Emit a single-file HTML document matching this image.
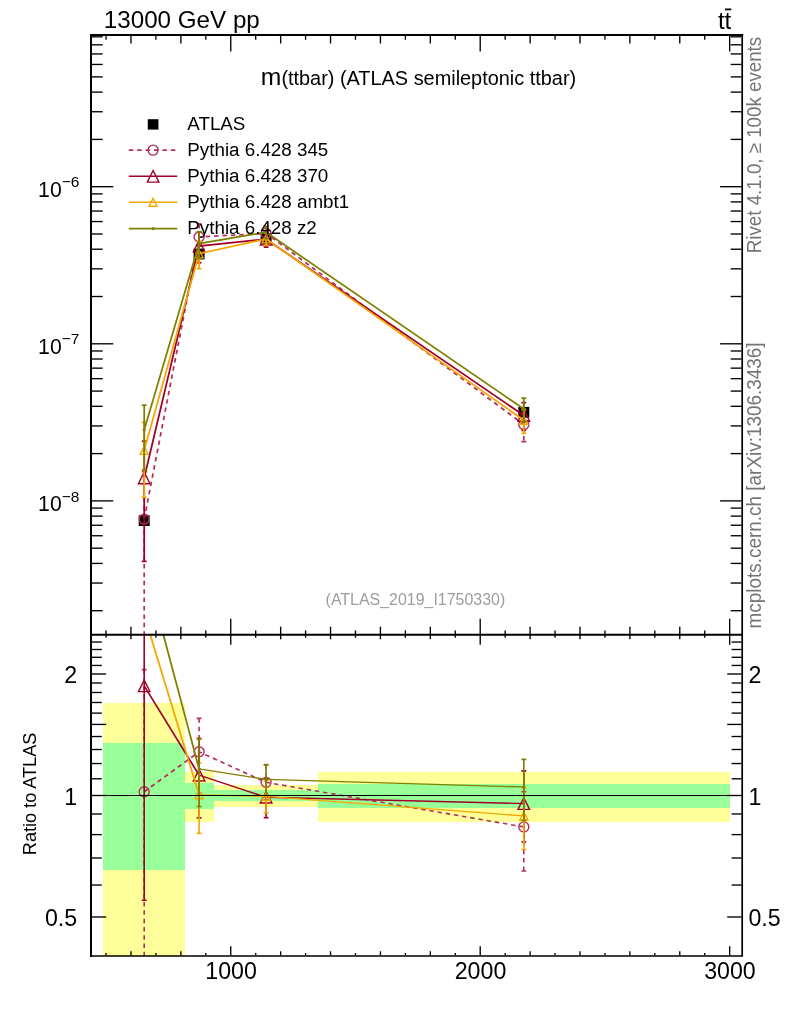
<!DOCTYPE html>
<html lang="en">
<head>
<meta charset="utf-8">
<title>m(ttbar) (ATLAS semileptonic ttbar) - 13000 GeV pp</title>
<style>
html,body{margin:0;padding:0;background:#fff;}
body{width:786px;height:1024px;overflow:hidden;}
svg{display:block;font-family:"Liberation Sans", Arial, Helvetica, sans-serif;}
</style>
</head>
<body>
<svg width="786" height="1024" viewBox="0 0 786 1024">
<rect width="786" height="1024" fill="#fff"/>
<g shape-rendering="crispEdges">
<rect x="103.3" y="703.2" width="81.7" height="252.8" fill="#ffff99"/>
<rect x="103.3" y="743.3" width="81.7" height="126.2" fill="#99ff99"/>
<rect x="185.0" y="772.3" width="29.0" height="49.7" fill="#ffff99"/>
<rect x="185.0" y="782.7" width="29.0" height="26.0" fill="#99ff99"/>
<rect x="214.0" y="785.3" width="104.0" height="21.4" fill="#ffff99"/>
<rect x="214.0" y="790.1" width="104.0" height="10.9" fill="#99ff99"/>
<rect x="318.0" y="772.2" width="411.8" height="49.5" fill="#ffff99"/>
<rect x="318.0" y="783.7" width="411.8" height="24.0" fill="#99ff99"/>
</g>
<defs><clipPath id="clipm"><rect x="91.0" y="35.0" width="651.2" height="599.7"/></clipPath><clipPath id="clipr"><rect x="91.0" y="634.7" width="651.2" height="321.29999999999995"/></clipPath></defs>
<rect x="138.70" y="515.20" width="11" height="10.8" fill="#000"/>
<rect x="193.60" y="248.60" width="11" height="10.8" fill="#000"/>
<rect x="260.60" y="233.10" width="11" height="10.8" fill="#000"/>
<rect x="518.30" y="406.90" width="11" height="10.8" fill="#000"/>
<g clip-path="url(#clipm)">
<polyline points="144.20,519.12 199.10,237.00 266.10,233.38 523.80,424.52" fill="none" stroke="#b5305c" stroke-width="1.75" stroke-dasharray="4.5 3.9"/>
<line x1="144.20" y1="471.62" x2="144.20" y2="634.70" stroke="#b5305c" stroke-width="1.75" stroke-dasharray="4.5 3.9"/>
<line x1="141.80" y1="471.62" x2="146.60" y2="471.62" stroke="#b5305c" stroke-width="1.75" />
<line x1="199.10" y1="223.97" x2="199.10" y2="253.12" stroke="#b5305c" stroke-width="1.75" stroke-dasharray="4.5 3.9"/>
<line x1="196.70" y1="223.97" x2="201.50" y2="223.97" stroke="#b5305c" stroke-width="1.75" />
<line x1="196.70" y1="253.12" x2="201.50" y2="253.12" stroke="#b5305c" stroke-width="1.75" />
<line x1="266.10" y1="226.52" x2="266.10" y2="240.23" stroke="#b5305c" stroke-width="1.75" stroke-dasharray="4.5 3.9"/>
<line x1="263.70" y1="226.52" x2="268.50" y2="226.52" stroke="#b5305c" stroke-width="1.75" />
<line x1="263.70" y1="240.23" x2="268.50" y2="240.23" stroke="#b5305c" stroke-width="1.75" />
<line x1="523.80" y1="410.82" x2="523.80" y2="441.69" stroke="#b5305c" stroke-width="1.75" stroke-dasharray="4.5 3.9"/>
<line x1="521.40" y1="410.82" x2="526.20" y2="410.82" stroke="#b5305c" stroke-width="1.75" />
<line x1="521.40" y1="441.69" x2="526.20" y2="441.69" stroke="#b5305c" stroke-width="1.75" />
<circle cx="144.20" cy="519.12" r="5.0" fill="none" stroke="#b5305c" stroke-width="1.4"/>
<circle cx="199.10" cy="237.00" r="5.0" fill="none" stroke="#b5305c" stroke-width="1.4"/>
<circle cx="266.10" cy="233.38" r="5.0" fill="none" stroke="#b5305c" stroke-width="1.4"/>
<circle cx="523.80" cy="424.52" r="5.0" fill="none" stroke="#b5305c" stroke-width="1.4"/>
</g>
<g clip-path="url(#clipm)">
<polyline points="144.20,477.93 199.10,246.09 266.10,239.19 523.80,415.44" fill="none" stroke="#a00028" stroke-width="1.75" />
<line x1="144.20" y1="441.24" x2="144.20" y2="561.39" stroke="#a00028" stroke-width="1.75" />
<line x1="141.80" y1="441.24" x2="146.60" y2="441.24" stroke="#a00028" stroke-width="1.75" />
<line x1="141.80" y1="561.39" x2="146.60" y2="561.39" stroke="#a00028" stroke-width="1.75" />
<line x1="199.10" y1="231.88" x2="199.10" y2="262.72" stroke="#a00028" stroke-width="1.75" />
<line x1="196.70" y1="231.88" x2="201.50" y2="231.88" stroke="#a00028" stroke-width="1.75" />
<line x1="196.70" y1="262.72" x2="201.50" y2="262.72" stroke="#a00028" stroke-width="1.75" />
<line x1="266.10" y1="232.00" x2="266.10" y2="247.14" stroke="#a00028" stroke-width="1.75" />
<line x1="263.70" y1="232.00" x2="268.50" y2="232.00" stroke="#a00028" stroke-width="1.75" />
<line x1="263.70" y1="247.14" x2="268.50" y2="247.14" stroke="#a00028" stroke-width="1.75" />
<line x1="523.80" y1="402.71" x2="523.80" y2="430.40" stroke="#a00028" stroke-width="1.75" />
<line x1="521.40" y1="402.71" x2="526.20" y2="402.71" stroke="#a00028" stroke-width="1.75" />
<line x1="521.40" y1="430.40" x2="526.20" y2="430.40" stroke="#a00028" stroke-width="1.75" />
<path d="M138.40 483.73L150.00 483.73L144.20 472.13Z" fill="none" stroke="#a00028" stroke-width="1.4" stroke-linejoin="miter"/>
<path d="M193.30 251.89L204.90 251.89L199.10 240.29Z" fill="none" stroke="#a00028" stroke-width="1.4" stroke-linejoin="miter"/>
<path d="M260.30 244.99L271.90 244.99L266.10 233.39Z" fill="none" stroke="#a00028" stroke-width="1.4" stroke-linejoin="miter"/>
<path d="M518.00 421.24L529.60 421.24L523.80 409.64Z" fill="none" stroke="#a00028" stroke-width="1.4" stroke-linejoin="miter"/>
</g>
<g clip-path="url(#clipm)">
<polyline points="144.20,450.35 199.10,253.73 266.10,238.84 523.80,420.25" fill="none" stroke="#f4a600" stroke-width="1.75" />
<line x1="144.20" y1="422.36" x2="144.20" y2="497.16" stroke="#f4a600" stroke-width="1.75" />
<line x1="141.80" y1="422.36" x2="146.60" y2="422.36" stroke="#f4a600" stroke-width="1.75" />
<line x1="141.80" y1="497.16" x2="146.60" y2="497.16" stroke="#f4a600" stroke-width="1.75" />
<line x1="199.10" y1="241.39" x2="199.10" y2="268.71" stroke="#f4a600" stroke-width="1.75" />
<line x1="196.70" y1="241.39" x2="201.50" y2="241.39" stroke="#f4a600" stroke-width="1.75" />
<line x1="196.70" y1="268.71" x2="201.50" y2="268.71" stroke="#f4a600" stroke-width="1.75" />
<line x1="266.10" y1="232.93" x2="266.10" y2="245.31" stroke="#f4a600" stroke-width="1.75" />
<line x1="263.70" y1="232.93" x2="268.50" y2="232.93" stroke="#f4a600" stroke-width="1.75" />
<line x1="263.70" y1="245.31" x2="268.50" y2="245.31" stroke="#f4a600" stroke-width="1.75" />
<line x1="523.80" y1="409.30" x2="523.80" y2="433.31" stroke="#f4a600" stroke-width="1.75" />
<line x1="521.40" y1="409.30" x2="526.20" y2="409.30" stroke="#f4a600" stroke-width="1.75" />
<line x1="521.40" y1="433.31" x2="526.20" y2="433.31" stroke="#f4a600" stroke-width="1.75" />
<path d="M140.20 454.35L148.20 454.35L144.20 446.35Z" fill="none" stroke="#f4a600" stroke-width="1.4" stroke-linejoin="miter"/>
<path d="M195.10 257.73L203.10 257.73L199.10 249.73Z" fill="none" stroke="#f4a600" stroke-width="1.4" stroke-linejoin="miter"/>
<path d="M262.10 242.84L270.10 242.84L266.10 234.84Z" fill="none" stroke="#f4a600" stroke-width="1.4" stroke-linejoin="miter"/>
<path d="M519.80 424.25L527.80 424.25L523.80 416.25Z" fill="none" stroke="#f4a600" stroke-width="1.4" stroke-linejoin="miter"/>
</g>
<g clip-path="url(#clipm)">
<polyline points="144.20,430.06 199.10,243.64 266.10,232.25 523.80,408.97" fill="none" stroke="#808000" stroke-width="1.75" />
<line x1="144.20" y1="405.16" x2="144.20" y2="469.98" stroke="#808000" stroke-width="1.75" />
<line x1="141.80" y1="405.16" x2="146.60" y2="405.16" stroke="#808000" stroke-width="1.75" />
<line x1="141.80" y1="469.98" x2="146.60" y2="469.98" stroke="#808000" stroke-width="1.75" />
<line x1="199.10" y1="231.88" x2="199.10" y2="258.29" stroke="#808000" stroke-width="1.75" />
<line x1="196.70" y1="231.88" x2="201.50" y2="231.88" stroke="#808000" stroke-width="1.75" />
<line x1="196.70" y1="258.29" x2="201.50" y2="258.29" stroke="#808000" stroke-width="1.75" />
<line x1="266.10" y1="226.52" x2="266.10" y2="238.50" stroke="#808000" stroke-width="1.75" />
<line x1="263.70" y1="226.52" x2="268.50" y2="226.52" stroke="#808000" stroke-width="1.75" />
<line x1="263.70" y1="238.50" x2="268.50" y2="238.50" stroke="#808000" stroke-width="1.75" />
<line x1="523.80" y1="398.23" x2="523.80" y2="422.04" stroke="#808000" stroke-width="1.75" />
<line x1="521.40" y1="398.23" x2="526.20" y2="398.23" stroke="#808000" stroke-width="1.75" />
<line x1="521.40" y1="422.04" x2="526.20" y2="422.04" stroke="#808000" stroke-width="1.75" />
<circle cx="144.20" cy="430.06" r="1.6" fill="#808000"/>
<circle cx="199.10" cy="243.64" r="1.6" fill="#808000"/>
<circle cx="266.10" cy="232.25" r="1.6" fill="#808000"/>
<circle cx="523.80" cy="408.97" r="1.6" fill="#808000"/>
</g>
<g clip-path="url(#clipr)">
<line x1="144.20" y1="791.69" x2="199.10" y2="751.82" stroke="#b5305c" stroke-width="1.79" stroke-linecap="butt" stroke-dasharray="4.5 3.8" stroke-dashoffset="0.00"/>
<line x1="199.10" y1="751.82" x2="266.10" y2="782.33" stroke="#b5305c" stroke-width="1.71" stroke-linecap="butt" stroke-dasharray="4.5 3.8" stroke-dashoffset="1.45"/>
<line x1="266.10" y1="782.33" x2="523.80" y2="826.90" stroke="#b5305c" stroke-width="1.59" stroke-linecap="butt" stroke-dasharray="4.5 3.8" stroke-dashoffset="0.37"/>
<line x1="144.20" y1="669.67" x2="144.20" y2="956.00" stroke="#b5305c" stroke-width="1.6" stroke-dasharray="4.5 3.8"/>
<line x1="141.80" y1="669.67" x2="146.60" y2="669.67" stroke="#b5305c" stroke-width="1.6" />
<line x1="199.10" y1="718.34" x2="199.10" y2="793.24" stroke="#b5305c" stroke-width="1.6" stroke-dasharray="4.5 3.8"/>
<line x1="196.70" y1="718.34" x2="201.50" y2="718.34" stroke="#b5305c" stroke-width="1.6" />
<line x1="196.70" y1="793.24" x2="201.50" y2="793.24" stroke="#b5305c" stroke-width="1.6" />
<line x1="266.10" y1="764.71" x2="266.10" y2="799.94" stroke="#b5305c" stroke-width="1.6" stroke-dasharray="4.5 3.8"/>
<line x1="263.70" y1="764.71" x2="268.50" y2="764.71" stroke="#b5305c" stroke-width="1.6" />
<line x1="263.70" y1="799.94" x2="268.50" y2="799.94" stroke="#b5305c" stroke-width="1.6" />
<line x1="523.80" y1="791.69" x2="523.80" y2="871.01" stroke="#b5305c" stroke-width="1.6" stroke-dasharray="4.5 3.8"/>
<line x1="521.40" y1="791.69" x2="526.20" y2="791.69" stroke="#b5305c" stroke-width="1.6" />
<line x1="521.40" y1="871.01" x2="526.20" y2="871.01" stroke="#b5305c" stroke-width="1.6" />
<circle cx="144.20" cy="791.69" r="5.0" fill="none" stroke="#b5305c" stroke-width="1.4"/>
<circle cx="199.10" cy="751.82" r="5.0" fill="none" stroke="#b5305c" stroke-width="1.4"/>
<circle cx="266.10" cy="782.33" r="5.0" fill="none" stroke="#b5305c" stroke-width="1.4"/>
<circle cx="523.80" cy="826.90" r="5.0" fill="none" stroke="#b5305c" stroke-width="1.4"/>
</g>
<g clip-path="url(#clipr)">
<line x1="144.20" y1="685.87" x2="199.10" y2="775.17" stroke="#a00028" stroke-width="1.73" stroke-linecap="butt" />
<line x1="199.10" y1="775.17" x2="266.10" y2="797.26" stroke="#a00028" stroke-width="1.46" stroke-linecap="butt" />
<line x1="266.10" y1="797.26" x2="523.80" y2="803.57" stroke="#a00028" stroke-width="1.31" stroke-linecap="butt" />
<line x1="144.20" y1="634.70" x2="144.20" y2="900.29" stroke="#a00028" stroke-width="1.6" />
<line x1="141.80" y1="900.29" x2="146.60" y2="900.29" stroke="#a00028" stroke-width="1.6" />
<line x1="199.10" y1="738.66" x2="199.10" y2="817.91" stroke="#a00028" stroke-width="1.6" />
<line x1="196.70" y1="738.66" x2="201.50" y2="738.66" stroke="#a00028" stroke-width="1.6" />
<line x1="196.70" y1="817.91" x2="201.50" y2="817.91" stroke="#a00028" stroke-width="1.6" />
<line x1="266.10" y1="778.79" x2="266.10" y2="817.71" stroke="#a00028" stroke-width="1.6" />
<line x1="263.70" y1="778.79" x2="268.50" y2="778.79" stroke="#a00028" stroke-width="1.6" />
<line x1="263.70" y1="817.71" x2="268.50" y2="817.71" stroke="#a00028" stroke-width="1.6" />
<line x1="523.80" y1="770.85" x2="523.80" y2="842.00" stroke="#a00028" stroke-width="1.6" />
<line x1="521.40" y1="770.85" x2="526.20" y2="770.85" stroke="#a00028" stroke-width="1.6" />
<line x1="521.40" y1="842.00" x2="526.20" y2="842.00" stroke="#a00028" stroke-width="1.6" />
<path d="M138.40 691.67L150.00 691.67L144.20 680.07Z" fill="none" stroke="#a00028" stroke-width="1.4" stroke-linejoin="miter"/>
<path d="M193.30 780.97L204.90 780.97L199.10 769.37Z" fill="none" stroke="#a00028" stroke-width="1.4" stroke-linejoin="miter"/>
<path d="M260.30 803.06L271.90 803.06L266.10 791.46Z" fill="none" stroke="#a00028" stroke-width="1.4" stroke-linejoin="miter"/>
<path d="M518.00 809.37L529.60 809.37L523.80 797.77Z" fill="none" stroke="#a00028" stroke-width="1.4" stroke-linejoin="miter"/>
</g>
<g clip-path="url(#clipr)">
<line x1="144.20" y1="615.02" x2="199.10" y2="794.80" stroke="#f4a600" stroke-width="1.78" stroke-linecap="butt" />
<line x1="199.10" y1="794.80" x2="266.10" y2="796.38" stroke="#f4a600" stroke-width="1.31" stroke-linecap="butt" />
<line x1="266.10" y1="796.38" x2="523.80" y2="815.93" stroke="#f4a600" stroke-width="1.34" stroke-linecap="butt" />
<line x1="199.10" y1="763.10" x2="199.10" y2="833.30" stroke="#f4a600" stroke-width="1.6" />
<line x1="196.70" y1="763.10" x2="201.50" y2="763.10" stroke="#f4a600" stroke-width="1.6" />
<line x1="196.70" y1="833.30" x2="201.50" y2="833.30" stroke="#f4a600" stroke-width="1.6" />
<line x1="266.10" y1="781.20" x2="266.10" y2="813.00" stroke="#f4a600" stroke-width="1.6" />
<line x1="263.70" y1="781.20" x2="268.50" y2="781.20" stroke="#f4a600" stroke-width="1.6" />
<line x1="263.70" y1="813.00" x2="268.50" y2="813.00" stroke="#f4a600" stroke-width="1.6" />
<line x1="523.80" y1="787.78" x2="523.80" y2="849.47" stroke="#f4a600" stroke-width="1.6" />
<line x1="521.40" y1="787.78" x2="526.20" y2="787.78" stroke="#f4a600" stroke-width="1.6" />
<line x1="521.40" y1="849.47" x2="526.20" y2="849.47" stroke="#f4a600" stroke-width="1.6" />
<path d="M195.10 798.80L203.10 798.80L199.10 790.80Z" fill="none" stroke="#f4a600" stroke-width="1.4" stroke-linejoin="miter"/>
<path d="M262.10 800.38L270.10 800.38L266.10 792.38Z" fill="none" stroke="#f4a600" stroke-width="1.4" stroke-linejoin="miter"/>
<path d="M519.80 819.93L527.80 819.93L523.80 811.93Z" fill="none" stroke="#f4a600" stroke-width="1.4" stroke-linejoin="miter"/>
</g>
<g clip-path="url(#clipr)">
<line x1="144.20" y1="562.88" x2="199.10" y2="768.88" stroke="#808000" stroke-width="1.78" stroke-linecap="butt" />
<line x1="199.10" y1="768.88" x2="266.10" y2="779.43" stroke="#808000" stroke-width="1.38" stroke-linecap="butt" />
<line x1="266.10" y1="779.43" x2="523.80" y2="786.95" stroke="#808000" stroke-width="1.31" stroke-linecap="butt" />
<line x1="199.10" y1="738.66" x2="199.10" y2="806.53" stroke="#808000" stroke-width="1.6" />
<line x1="196.70" y1="738.66" x2="201.50" y2="738.66" stroke="#808000" stroke-width="1.6" />
<line x1="196.70" y1="806.53" x2="201.50" y2="806.53" stroke="#808000" stroke-width="1.6" />
<line x1="266.10" y1="764.71" x2="266.10" y2="795.50" stroke="#808000" stroke-width="1.6" />
<line x1="263.70" y1="764.71" x2="268.50" y2="764.71" stroke="#808000" stroke-width="1.6" />
<line x1="263.70" y1="795.50" x2="268.50" y2="795.50" stroke="#808000" stroke-width="1.6" />
<line x1="523.80" y1="759.36" x2="523.80" y2="820.52" stroke="#808000" stroke-width="1.6" />
<line x1="521.40" y1="759.36" x2="526.20" y2="759.36" stroke="#808000" stroke-width="1.6" />
<line x1="521.40" y1="820.52" x2="526.20" y2="820.52" stroke="#808000" stroke-width="1.6" />
<circle cx="199.10" cy="768.88" r="1.6" fill="#808000"/>
<circle cx="266.10" cy="779.43" r="1.6" fill="#808000"/>
<circle cx="523.80" cy="786.95" r="1.6" fill="#808000"/>
</g>
<line x1="91.00" y1="795.50" x2="742.20" y2="795.50" stroke="#000" stroke-width="1.2" />
<path d="M91.0 956.0V35.0H742.2" fill="none" stroke="#000" stroke-width="2" stroke-linejoin="miter" stroke-linecap="square"/>
<path d="M742.2 35.0V956.0H91.0" fill="none" stroke="#000" stroke-width="1.7" stroke-linecap="square"/>
<line x1="91.00" y1="634.70" x2="742.20" y2="634.70" stroke="#000" stroke-width="2.0" />
<line x1="106.02" y1="36.00" x2="106.02" y2="39.80" stroke="#000" stroke-width="1.35" />
<line x1="106.02" y1="630.40" x2="106.02" y2="637.80" stroke="#000" stroke-width="1.35" />
<line x1="106.02" y1="955.20" x2="106.02" y2="953.10" stroke="#000" stroke-width="1.35" />
<line x1="130.96" y1="36.00" x2="130.96" y2="43.50" stroke="#000" stroke-width="1.35" />
<line x1="130.96" y1="626.70" x2="130.96" y2="639.30" stroke="#000" stroke-width="1.35" />
<line x1="130.96" y1="955.20" x2="130.96" y2="951.30" stroke="#000" stroke-width="1.35" />
<line x1="155.91" y1="36.00" x2="155.91" y2="39.80" stroke="#000" stroke-width="1.35" />
<line x1="155.91" y1="630.40" x2="155.91" y2="637.80" stroke="#000" stroke-width="1.35" />
<line x1="155.91" y1="955.20" x2="155.91" y2="953.10" stroke="#000" stroke-width="1.35" />
<line x1="180.86" y1="36.00" x2="180.86" y2="43.50" stroke="#000" stroke-width="1.35" />
<line x1="180.86" y1="626.70" x2="180.86" y2="639.30" stroke="#000" stroke-width="1.35" />
<line x1="180.86" y1="955.20" x2="180.86" y2="951.30" stroke="#000" stroke-width="1.35" />
<line x1="205.80" y1="36.00" x2="205.80" y2="39.80" stroke="#000" stroke-width="1.35" />
<line x1="205.80" y1="630.40" x2="205.80" y2="637.80" stroke="#000" stroke-width="1.35" />
<line x1="205.80" y1="955.20" x2="205.80" y2="953.10" stroke="#000" stroke-width="1.35" />
<line x1="230.75" y1="36.00" x2="230.75" y2="51.50" stroke="#000" stroke-width="1.35" />
<line x1="230.75" y1="618.70" x2="230.75" y2="644.70" stroke="#000" stroke-width="1.35" />
<line x1="230.75" y1="955.20" x2="230.75" y2="946.30" stroke="#000" stroke-width="1.35" />
<line x1="255.70" y1="36.00" x2="255.70" y2="39.80" stroke="#000" stroke-width="1.35" />
<line x1="255.70" y1="630.40" x2="255.70" y2="637.80" stroke="#000" stroke-width="1.35" />
<line x1="255.70" y1="955.20" x2="255.70" y2="953.10" stroke="#000" stroke-width="1.35" />
<line x1="280.64" y1="36.00" x2="280.64" y2="43.50" stroke="#000" stroke-width="1.35" />
<line x1="280.64" y1="626.70" x2="280.64" y2="639.30" stroke="#000" stroke-width="1.35" />
<line x1="280.64" y1="955.20" x2="280.64" y2="951.30" stroke="#000" stroke-width="1.35" />
<line x1="305.59" y1="36.00" x2="305.59" y2="39.80" stroke="#000" stroke-width="1.35" />
<line x1="305.59" y1="630.40" x2="305.59" y2="637.80" stroke="#000" stroke-width="1.35" />
<line x1="305.59" y1="955.20" x2="305.59" y2="953.10" stroke="#000" stroke-width="1.35" />
<line x1="330.54" y1="36.00" x2="330.54" y2="43.50" stroke="#000" stroke-width="1.35" />
<line x1="330.54" y1="626.70" x2="330.54" y2="639.30" stroke="#000" stroke-width="1.35" />
<line x1="330.54" y1="955.20" x2="330.54" y2="951.30" stroke="#000" stroke-width="1.35" />
<line x1="355.48" y1="36.00" x2="355.48" y2="39.80" stroke="#000" stroke-width="1.35" />
<line x1="355.48" y1="630.40" x2="355.48" y2="637.80" stroke="#000" stroke-width="1.35" />
<line x1="355.48" y1="955.20" x2="355.48" y2="953.10" stroke="#000" stroke-width="1.35" />
<line x1="380.43" y1="36.00" x2="380.43" y2="43.50" stroke="#000" stroke-width="1.35" />
<line x1="380.43" y1="626.70" x2="380.43" y2="639.30" stroke="#000" stroke-width="1.35" />
<line x1="380.43" y1="955.20" x2="380.43" y2="951.30" stroke="#000" stroke-width="1.35" />
<line x1="405.37" y1="36.00" x2="405.37" y2="39.80" stroke="#000" stroke-width="1.35" />
<line x1="405.37" y1="630.40" x2="405.37" y2="637.80" stroke="#000" stroke-width="1.35" />
<line x1="405.37" y1="955.20" x2="405.37" y2="953.10" stroke="#000" stroke-width="1.35" />
<line x1="430.32" y1="36.00" x2="430.32" y2="43.50" stroke="#000" stroke-width="1.35" />
<line x1="430.32" y1="626.70" x2="430.32" y2="639.30" stroke="#000" stroke-width="1.35" />
<line x1="430.32" y1="955.20" x2="430.32" y2="951.30" stroke="#000" stroke-width="1.35" />
<line x1="455.27" y1="36.00" x2="455.27" y2="39.80" stroke="#000" stroke-width="1.35" />
<line x1="455.27" y1="630.40" x2="455.27" y2="637.80" stroke="#000" stroke-width="1.35" />
<line x1="455.27" y1="955.20" x2="455.27" y2="953.10" stroke="#000" stroke-width="1.35" />
<line x1="480.21" y1="36.00" x2="480.21" y2="51.50" stroke="#000" stroke-width="1.35" />
<line x1="480.21" y1="618.70" x2="480.21" y2="644.70" stroke="#000" stroke-width="1.35" />
<line x1="480.21" y1="955.20" x2="480.21" y2="946.30" stroke="#000" stroke-width="1.35" />
<line x1="505.16" y1="36.00" x2="505.16" y2="39.80" stroke="#000" stroke-width="1.35" />
<line x1="505.16" y1="630.40" x2="505.16" y2="637.80" stroke="#000" stroke-width="1.35" />
<line x1="505.16" y1="955.20" x2="505.16" y2="953.10" stroke="#000" stroke-width="1.35" />
<line x1="530.11" y1="36.00" x2="530.11" y2="43.50" stroke="#000" stroke-width="1.35" />
<line x1="530.11" y1="626.70" x2="530.11" y2="639.30" stroke="#000" stroke-width="1.35" />
<line x1="530.11" y1="955.20" x2="530.11" y2="951.30" stroke="#000" stroke-width="1.35" />
<line x1="555.05" y1="36.00" x2="555.05" y2="39.80" stroke="#000" stroke-width="1.35" />
<line x1="555.05" y1="630.40" x2="555.05" y2="637.80" stroke="#000" stroke-width="1.35" />
<line x1="555.05" y1="955.20" x2="555.05" y2="953.10" stroke="#000" stroke-width="1.35" />
<line x1="580.00" y1="36.00" x2="580.00" y2="43.50" stroke="#000" stroke-width="1.35" />
<line x1="580.00" y1="626.70" x2="580.00" y2="639.30" stroke="#000" stroke-width="1.35" />
<line x1="580.00" y1="955.20" x2="580.00" y2="951.30" stroke="#000" stroke-width="1.35" />
<line x1="604.95" y1="36.00" x2="604.95" y2="39.80" stroke="#000" stroke-width="1.35" />
<line x1="604.95" y1="630.40" x2="604.95" y2="637.80" stroke="#000" stroke-width="1.35" />
<line x1="604.95" y1="955.20" x2="604.95" y2="953.10" stroke="#000" stroke-width="1.35" />
<line x1="629.89" y1="36.00" x2="629.89" y2="43.50" stroke="#000" stroke-width="1.35" />
<line x1="629.89" y1="626.70" x2="629.89" y2="639.30" stroke="#000" stroke-width="1.35" />
<line x1="629.89" y1="955.20" x2="629.89" y2="951.30" stroke="#000" stroke-width="1.35" />
<line x1="654.84" y1="36.00" x2="654.84" y2="39.80" stroke="#000" stroke-width="1.35" />
<line x1="654.84" y1="630.40" x2="654.84" y2="637.80" stroke="#000" stroke-width="1.35" />
<line x1="654.84" y1="955.20" x2="654.84" y2="953.10" stroke="#000" stroke-width="1.35" />
<line x1="679.78" y1="36.00" x2="679.78" y2="43.50" stroke="#000" stroke-width="1.35" />
<line x1="679.78" y1="626.70" x2="679.78" y2="639.30" stroke="#000" stroke-width="1.35" />
<line x1="679.78" y1="955.20" x2="679.78" y2="951.30" stroke="#000" stroke-width="1.35" />
<line x1="704.73" y1="36.00" x2="704.73" y2="39.80" stroke="#000" stroke-width="1.35" />
<line x1="704.73" y1="630.40" x2="704.73" y2="637.80" stroke="#000" stroke-width="1.35" />
<line x1="704.73" y1="955.20" x2="704.73" y2="953.10" stroke="#000" stroke-width="1.35" />
<line x1="729.68" y1="36.00" x2="729.68" y2="51.50" stroke="#000" stroke-width="1.35" />
<line x1="729.68" y1="618.70" x2="729.68" y2="644.70" stroke="#000" stroke-width="1.35" />
<line x1="729.68" y1="955.20" x2="729.68" y2="946.30" stroke="#000" stroke-width="1.35" />
<line x1="92.00" y1="610.71" x2="102.70" y2="610.71" stroke="#000" stroke-width="1.35" />
<line x1="741.40" y1="610.71" x2="730.70" y2="610.71" stroke="#000" stroke-width="1.35" />
<line x1="92.00" y1="583.04" x2="102.70" y2="583.04" stroke="#000" stroke-width="1.35" />
<line x1="741.40" y1="583.04" x2="730.70" y2="583.04" stroke="#000" stroke-width="1.35" />
<line x1="92.00" y1="563.42" x2="102.70" y2="563.42" stroke="#000" stroke-width="1.35" />
<line x1="741.40" y1="563.42" x2="730.70" y2="563.42" stroke="#000" stroke-width="1.35" />
<line x1="92.00" y1="548.19" x2="102.70" y2="548.19" stroke="#000" stroke-width="1.35" />
<line x1="741.40" y1="548.19" x2="730.70" y2="548.19" stroke="#000" stroke-width="1.35" />
<line x1="92.00" y1="535.75" x2="102.70" y2="535.75" stroke="#000" stroke-width="1.35" />
<line x1="741.40" y1="535.75" x2="730.70" y2="535.75" stroke="#000" stroke-width="1.35" />
<line x1="92.00" y1="525.24" x2="102.70" y2="525.24" stroke="#000" stroke-width="1.35" />
<line x1="741.40" y1="525.24" x2="730.70" y2="525.24" stroke="#000" stroke-width="1.35" />
<line x1="92.00" y1="516.12" x2="102.70" y2="516.12" stroke="#000" stroke-width="1.35" />
<line x1="741.40" y1="516.12" x2="730.70" y2="516.12" stroke="#000" stroke-width="1.35" />
<line x1="92.00" y1="508.09" x2="102.70" y2="508.09" stroke="#000" stroke-width="1.35" />
<line x1="741.40" y1="508.09" x2="730.70" y2="508.09" stroke="#000" stroke-width="1.35" />
<line x1="92.00" y1="500.90" x2="113.30" y2="500.90" stroke="#000" stroke-width="1.35" />
<line x1="741.40" y1="500.90" x2="720.10" y2="500.90" stroke="#000" stroke-width="1.35" />
<line x1="92.00" y1="453.61" x2="102.70" y2="453.61" stroke="#000" stroke-width="1.35" />
<line x1="741.40" y1="453.61" x2="730.70" y2="453.61" stroke="#000" stroke-width="1.35" />
<line x1="92.00" y1="425.94" x2="102.70" y2="425.94" stroke="#000" stroke-width="1.35" />
<line x1="741.40" y1="425.94" x2="730.70" y2="425.94" stroke="#000" stroke-width="1.35" />
<line x1="92.00" y1="406.32" x2="102.70" y2="406.32" stroke="#000" stroke-width="1.35" />
<line x1="741.40" y1="406.32" x2="730.70" y2="406.32" stroke="#000" stroke-width="1.35" />
<line x1="92.00" y1="391.09" x2="102.70" y2="391.09" stroke="#000" stroke-width="1.35" />
<line x1="741.40" y1="391.09" x2="730.70" y2="391.09" stroke="#000" stroke-width="1.35" />
<line x1="92.00" y1="378.65" x2="102.70" y2="378.65" stroke="#000" stroke-width="1.35" />
<line x1="741.40" y1="378.65" x2="730.70" y2="378.65" stroke="#000" stroke-width="1.35" />
<line x1="92.00" y1="368.14" x2="102.70" y2="368.14" stroke="#000" stroke-width="1.35" />
<line x1="741.40" y1="368.14" x2="730.70" y2="368.14" stroke="#000" stroke-width="1.35" />
<line x1="92.00" y1="359.02" x2="102.70" y2="359.02" stroke="#000" stroke-width="1.35" />
<line x1="741.40" y1="359.02" x2="730.70" y2="359.02" stroke="#000" stroke-width="1.35" />
<line x1="92.00" y1="350.99" x2="102.70" y2="350.99" stroke="#000" stroke-width="1.35" />
<line x1="741.40" y1="350.99" x2="730.70" y2="350.99" stroke="#000" stroke-width="1.35" />
<line x1="92.00" y1="343.80" x2="113.30" y2="343.80" stroke="#000" stroke-width="1.35" />
<line x1="741.40" y1="343.80" x2="720.10" y2="343.80" stroke="#000" stroke-width="1.35" />
<line x1="92.00" y1="296.51" x2="102.70" y2="296.51" stroke="#000" stroke-width="1.35" />
<line x1="741.40" y1="296.51" x2="730.70" y2="296.51" stroke="#000" stroke-width="1.35" />
<line x1="92.00" y1="268.84" x2="102.70" y2="268.84" stroke="#000" stroke-width="1.35" />
<line x1="741.40" y1="268.84" x2="730.70" y2="268.84" stroke="#000" stroke-width="1.35" />
<line x1="92.00" y1="249.22" x2="102.70" y2="249.22" stroke="#000" stroke-width="1.35" />
<line x1="741.40" y1="249.22" x2="730.70" y2="249.22" stroke="#000" stroke-width="1.35" />
<line x1="92.00" y1="233.99" x2="102.70" y2="233.99" stroke="#000" stroke-width="1.35" />
<line x1="741.40" y1="233.99" x2="730.70" y2="233.99" stroke="#000" stroke-width="1.35" />
<line x1="92.00" y1="221.55" x2="102.70" y2="221.55" stroke="#000" stroke-width="1.35" />
<line x1="741.40" y1="221.55" x2="730.70" y2="221.55" stroke="#000" stroke-width="1.35" />
<line x1="92.00" y1="211.04" x2="102.70" y2="211.04" stroke="#000" stroke-width="1.35" />
<line x1="741.40" y1="211.04" x2="730.70" y2="211.04" stroke="#000" stroke-width="1.35" />
<line x1="92.00" y1="201.92" x2="102.70" y2="201.92" stroke="#000" stroke-width="1.35" />
<line x1="741.40" y1="201.92" x2="730.70" y2="201.92" stroke="#000" stroke-width="1.35" />
<line x1="92.00" y1="193.89" x2="102.70" y2="193.89" stroke="#000" stroke-width="1.35" />
<line x1="741.40" y1="193.89" x2="730.70" y2="193.89" stroke="#000" stroke-width="1.35" />
<line x1="92.00" y1="186.70" x2="113.30" y2="186.70" stroke="#000" stroke-width="1.35" />
<line x1="741.40" y1="186.70" x2="720.10" y2="186.70" stroke="#000" stroke-width="1.35" />
<line x1="92.00" y1="139.41" x2="102.70" y2="139.41" stroke="#000" stroke-width="1.35" />
<line x1="741.40" y1="139.41" x2="730.70" y2="139.41" stroke="#000" stroke-width="1.35" />
<line x1="92.00" y1="111.74" x2="102.70" y2="111.74" stroke="#000" stroke-width="1.35" />
<line x1="741.40" y1="111.74" x2="730.70" y2="111.74" stroke="#000" stroke-width="1.35" />
<line x1="92.00" y1="92.12" x2="102.70" y2="92.12" stroke="#000" stroke-width="1.35" />
<line x1="741.40" y1="92.12" x2="730.70" y2="92.12" stroke="#000" stroke-width="1.35" />
<line x1="92.00" y1="76.89" x2="102.70" y2="76.89" stroke="#000" stroke-width="1.35" />
<line x1="741.40" y1="76.89" x2="730.70" y2="76.89" stroke="#000" stroke-width="1.35" />
<line x1="92.00" y1="64.45" x2="102.70" y2="64.45" stroke="#000" stroke-width="1.35" />
<line x1="741.40" y1="64.45" x2="730.70" y2="64.45" stroke="#000" stroke-width="1.35" />
<line x1="92.00" y1="53.94" x2="102.70" y2="53.94" stroke="#000" stroke-width="1.35" />
<line x1="741.40" y1="53.94" x2="730.70" y2="53.94" stroke="#000" stroke-width="1.35" />
<line x1="92.00" y1="44.82" x2="102.70" y2="44.82" stroke="#000" stroke-width="1.35" />
<line x1="741.40" y1="44.82" x2="730.70" y2="44.82" stroke="#000" stroke-width="1.35" />
<line x1="92.00" y1="36.79" x2="102.70" y2="36.79" stroke="#000" stroke-width="1.35" />
<line x1="741.40" y1="36.79" x2="730.70" y2="36.79" stroke="#000" stroke-width="1.35" />
<line x1="92.00" y1="917.00" x2="106.20" y2="917.00" stroke="#000" stroke-width="1.35" />
<line x1="741.40" y1="917.00" x2="727.20" y2="917.00" stroke="#000" stroke-width="1.35" />
<line x1="92.00" y1="885.04" x2="101.80" y2="885.04" stroke="#000" stroke-width="1.35" />
<line x1="741.40" y1="885.04" x2="731.60" y2="885.04" stroke="#000" stroke-width="1.35" />
<line x1="92.00" y1="858.02" x2="101.80" y2="858.02" stroke="#000" stroke-width="1.35" />
<line x1="741.40" y1="858.02" x2="731.60" y2="858.02" stroke="#000" stroke-width="1.35" />
<line x1="92.00" y1="834.61" x2="101.80" y2="834.61" stroke="#000" stroke-width="1.35" />
<line x1="741.40" y1="834.61" x2="731.60" y2="834.61" stroke="#000" stroke-width="1.35" />
<line x1="92.00" y1="813.97" x2="101.80" y2="813.97" stroke="#000" stroke-width="1.35" />
<line x1="741.40" y1="813.97" x2="731.60" y2="813.97" stroke="#000" stroke-width="1.35" />
<line x1="92.00" y1="795.50" x2="106.20" y2="795.50" stroke="#000" stroke-width="1.35" />
<line x1="741.40" y1="795.50" x2="727.20" y2="795.50" stroke="#000" stroke-width="1.35" />
<line x1="92.00" y1="778.79" x2="101.80" y2="778.79" stroke="#000" stroke-width="1.35" />
<line x1="741.40" y1="778.79" x2="731.60" y2="778.79" stroke="#000" stroke-width="1.35" />
<line x1="92.00" y1="763.54" x2="101.80" y2="763.54" stroke="#000" stroke-width="1.35" />
<line x1="741.40" y1="763.54" x2="731.60" y2="763.54" stroke="#000" stroke-width="1.35" />
<line x1="92.00" y1="749.51" x2="101.80" y2="749.51" stroke="#000" stroke-width="1.35" />
<line x1="741.40" y1="749.51" x2="731.60" y2="749.51" stroke="#000" stroke-width="1.35" />
<line x1="92.00" y1="736.52" x2="101.80" y2="736.52" stroke="#000" stroke-width="1.35" />
<line x1="741.40" y1="736.52" x2="731.60" y2="736.52" stroke="#000" stroke-width="1.35" />
<line x1="92.00" y1="724.43" x2="106.20" y2="724.43" stroke="#000" stroke-width="1.35" />
<line x1="741.40" y1="724.43" x2="727.20" y2="724.43" stroke="#000" stroke-width="1.35" />
<line x1="92.00" y1="713.11" x2="101.80" y2="713.11" stroke="#000" stroke-width="1.35" />
<line x1="741.40" y1="713.11" x2="731.60" y2="713.11" stroke="#000" stroke-width="1.35" />
<line x1="92.00" y1="702.49" x2="101.80" y2="702.49" stroke="#000" stroke-width="1.35" />
<line x1="741.40" y1="702.49" x2="731.60" y2="702.49" stroke="#000" stroke-width="1.35" />
<line x1="92.00" y1="692.47" x2="101.80" y2="692.47" stroke="#000" stroke-width="1.35" />
<line x1="741.40" y1="692.47" x2="731.60" y2="692.47" stroke="#000" stroke-width="1.35" />
<line x1="92.00" y1="682.99" x2="101.80" y2="682.99" stroke="#000" stroke-width="1.35" />
<line x1="741.40" y1="682.99" x2="731.60" y2="682.99" stroke="#000" stroke-width="1.35" />
<line x1="92.00" y1="674.00" x2="106.20" y2="674.00" stroke="#000" stroke-width="1.35" />
<line x1="741.40" y1="674.00" x2="727.20" y2="674.00" stroke="#000" stroke-width="1.35" />
<line x1="92.00" y1="665.45" x2="101.80" y2="665.45" stroke="#000" stroke-width="1.35" />
<line x1="741.40" y1="665.45" x2="731.60" y2="665.45" stroke="#000" stroke-width="1.35" />
<line x1="92.00" y1="657.29" x2="101.80" y2="657.29" stroke="#000" stroke-width="1.35" />
<line x1="741.40" y1="657.29" x2="731.60" y2="657.29" stroke="#000" stroke-width="1.35" />
<line x1="92.00" y1="649.50" x2="101.80" y2="649.50" stroke="#000" stroke-width="1.35" />
<line x1="741.40" y1="649.50" x2="731.60" y2="649.50" stroke="#000" stroke-width="1.35" />
<line x1="92.00" y1="642.04" x2="101.80" y2="642.04" stroke="#000" stroke-width="1.35" />
<line x1="741.40" y1="642.04" x2="731.60" y2="642.04" stroke="#000" stroke-width="1.35" />
<text x="61.70" y="197.20" font-size="21.2" fill="#000" text-anchor="end" >10</text>
<text x="61.80" y="187.30" font-size="15.5" fill="#000" text-anchor="start" >−6</text>
<text x="61.70" y="354.30" font-size="21.2" fill="#000" text-anchor="end" >10</text>
<text x="61.80" y="344.40" font-size="15.5" fill="#000" text-anchor="start" >−7</text>
<text x="61.70" y="511.40" font-size="21.2" fill="#000" text-anchor="end" >10</text>
<text x="61.80" y="501.50" font-size="15.5" fill="#000" text-anchor="start" >−8</text>
<text x="77.20" y="683.00" font-size="23.2" fill="#000" text-anchor="end" >2</text>
<text x="748.40" y="683.00" font-size="23.2" fill="#000" text-anchor="start" >2</text>
<text x="77.20" y="804.50" font-size="23.2" fill="#000" text-anchor="end" >1</text>
<text x="748.40" y="804.50" font-size="23.2" fill="#000" text-anchor="start" >1</text>
<text x="77.20" y="926.00" font-size="23.2" fill="#000" text-anchor="end" >0.5</text>
<text x="748.40" y="926.00" font-size="23.2" fill="#000" text-anchor="start" >0.5</text>
<text x="231.05" y="978.80" font-size="23.2" fill="#000" text-anchor="middle" >1000</text>
<text x="480.51" y="978.80" font-size="23.2" fill="#000" text-anchor="middle" >2000</text>
<text x="729.98" y="978.80" font-size="23.2" fill="#000" text-anchor="middle" >3000</text>
<text x="103.80" y="28.30" font-size="24.2" fill="#000" text-anchor="start" >13000 GeV pp</text>
<text x="718.00" y="28.90" font-size="24.2" fill="#000" text-anchor="start" >t</text>
<text x="724.60" y="28.90" font-size="24.2" fill="#000" text-anchor="start" >t</text>
<line x1="725.00" y1="9.40" x2="731.30" y2="9.40" stroke="#000" stroke-width="1.8" />
<text x="260.8" y="85.3" font-size="19.9" fill="#000"><tspan font-size="24.7">m</tspan>(ttbar) (ATLAS semileptonic ttbar)</text>
<text x="415.40" y="604.60" font-size="15.95" fill="#9d9d9d" text-anchor="middle" >(ATLAS_2019_I1750330)</text>
<text transform="translate(760.6 253.2) rotate(-90)" font-size="19.3" textLength="216.4" lengthAdjust="spacingAndGlyphs" fill="#757575">Rivet 4.1.0, ≥ 100k events</text>
<text transform="translate(760.8 628.4) rotate(-90)" font-size="19.3" textLength="286" lengthAdjust="spacingAndGlyphs" fill="#757575">mcplots.cern.ch [arXiv:1306.3436]</text>
<text transform="translate(36.2 855.2) rotate(-90)" font-size="18.8" textLength="122.5" lengthAdjust="spacingAndGlyphs" fill="#000">Ratio to ATLAS</text>
<rect x="147.75" y="119.20" width="10.7" height="10.4" fill="#000"/>
<text x="187.30" y="130.10" font-size="18.8" fill="#000" text-anchor="start" >ATLAS</text>
<text x="187.30" y="155.80" font-size="18.8" fill="#000" text-anchor="start" >Pythia 6.428 345</text>
<text x="187.30" y="182.00" font-size="18.8" fill="#000" text-anchor="start" >Pythia 6.428 370</text>
<text x="187.30" y="208.00" font-size="18.8" fill="#000" text-anchor="start" >Pythia 6.428 ambt1</text>
<text x="187.30" y="234.30" font-size="18.8" fill="#000" text-anchor="start" >Pythia 6.428 z2</text>
<line x1="128.80" y1="150.10" x2="177.20" y2="150.10" stroke="#b5305c" stroke-width="1.6" stroke-dasharray="4.5 3.9"/>
<circle cx="153.10" cy="150.10" r="5.0" fill="none" stroke="#b5305c" stroke-width="1.4"/>
<line x1="128.80" y1="176.30" x2="177.20" y2="176.30" stroke="#a00028" stroke-width="1.6" />
<path d="M147.30 182.10L158.90 182.10L153.10 170.50Z" fill="none" stroke="#a00028" stroke-width="1.4" stroke-linejoin="miter"/>
<line x1="128.80" y1="202.30" x2="177.20" y2="202.30" stroke="#f4a600" stroke-width="1.6" />
<path d="M149.10 206.30L157.10 206.30L153.10 198.30Z" fill="none" stroke="#f4a600" stroke-width="1.4" stroke-linejoin="miter"/>
<line x1="128.80" y1="228.60" x2="177.20" y2="228.60" stroke="#808000" stroke-width="1.6" />
<circle cx="153.10" cy="228.60" r="1.6" fill="#808000"/>
</svg>
</body>
</html>
